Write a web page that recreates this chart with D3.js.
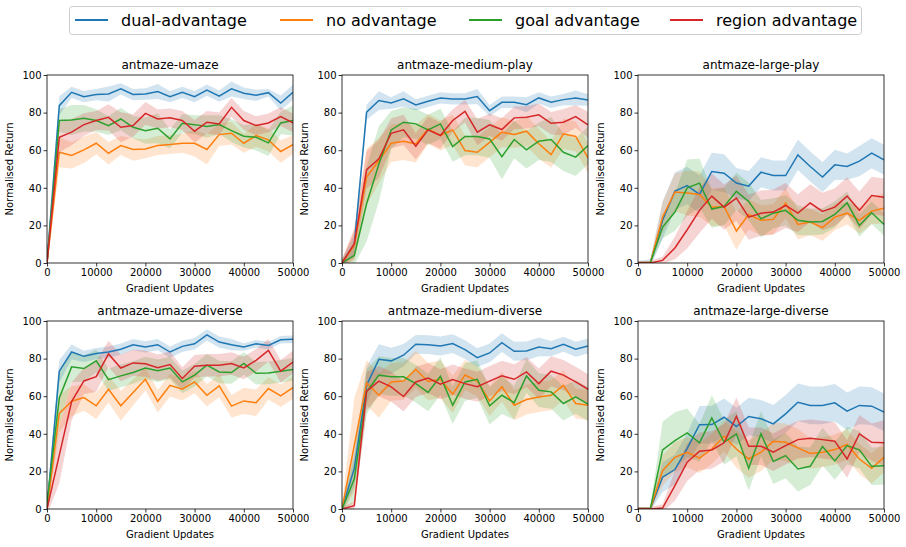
<!DOCTYPE html>
<html lang="en">
<head>
<meta charset="utf-8">
<title>antmaze returns</title>
<script src="https://cdn.jsdelivr.net/npm/d3@7/dist/d3.min.js"></script>
<style>
  body { margin: 0; background: #fff; }
  text { font-family: "DejaVu Sans", sans-serif; fill: #000; }
</style>
</head>
<body>
<div id="main"></div>
<script>
// x positions: every 2500 gradient updates
const steps = d3.range(21).map(i => i * 2500);
const seriesNames = ['dual-advantage', 'no advantage', 'goal advantage', 'region advantage'];
const colors = ['#1f77b4', '#ff7f0e', '#2ca02c', '#d62728'];
const titles = ['antmaze-umaze', 'antmaze-medium-play', 'antmaze-large-play',
                'antmaze-umaze-diverse', 'antmaze-medium-diverse', 'antmaze-large-diverse'];
const xTicks = [0, 10000, 20000, 30000, 40000, 50000];
const yTicks = [0, 20, 40, 60, 80, 100];

// means, series order = legend order
const umazeMean = [
  [0, 83.7, 90.8, 88.5, 89.6, 89.9, 92.6, 89.6, 89.9, 91.2, 88.5, 90.8, 88.5, 92, 88.8, 92.6, 90.3, 89.2, 90.6, 85.1, 90.8],
  [0, 58.9, 57.2, 60.2, 63.7, 58.4, 62.5, 60.4, 60.7, 62.5, 63, 63.7, 63.7, 60.4, 68.3, 69, 63.7, 67.8, 65.5, 59.3, 63],
  [0, 75.8, 76.1, 77, 75.8, 73.1, 76.6, 72.2, 70.4, 71.7, 66, 74.3, 73.6, 72.6, 73.6, 70.4, 67.4, 66.9, 63.9, 74.5, 75.8],
  [0, 66.9, 69.6, 73.6, 75.8, 77.5, 72.2, 73.1, 79.6, 76.6, 77.2, 75.8, 70.1, 74.9, 74, 82.8, 75.8, 73.1, 74.5, 77.9, 74.5]
];
const umazeSd = [
  [6, 5, 3, 3, 3, 4, 3, 3, 3, 4, 3, 3, 3, 3, 3, 4, 3, 3, 2, 4, 4],
  [3, 8, 7, 7, 6, 6, 5, 6, 5, 5, 5, 5, 7, 8, 6, 6, 5, 6, 6, 6, 5],
  [3, 6, 8, 7, 6, 5, 6, 6, 7, 8, 5, 5, 5, 6, 5, 6, 6, 7, 7, 6, 8],
  [3, 8, 7, 6, 5, 7, 8, 6, 6, 5, 5, 5, 6, 6, 6, 5, 5, 5, 5, 5, 5]
];

const mediumPlayMean = [
  [0, 10, 80.2, 86.4, 85.1, 87.3, 84.1, 86, 87.8, 87.3, 87.3, 88.5, 81, 85.5, 85.5, 84.2, 87.8, 85.5, 86.9, 87.8, 86.7],
  [0, 9.4, 45.7, 54.5, 63.7, 64.8, 63.4, 71.3, 67.8, 70.8, 59.8, 58.9, 64.2, 69.6, 68.3, 70.1, 63.4, 57.7, 68.7, 67.3, 55.9],
  [0, 4, 31.5, 52.7, 70.8, 74.9, 74, 70.8, 74, 61.9, 67.3, 67.3, 66, 56.6, 65.7, 60.2, 64.8, 65.7, 58.9, 56.3, 62.5],
  [0, 10.3, 49.6, 55.4, 69, 70.8, 62.1, 70.8, 67.8, 75.8, 80.7, 69.6, 73.5, 71, 77.2, 77.5, 78.8, 74.3, 74.9, 77.9, 73.5]
];
const mediumPlaySd = [
  [2, 5, 4, 5, 3, 4, 3, 3, 3, 3, 3, 4, 3, 3, 3, 4, 3, 3, 3, 4, 3],
  [2, 8, 15, 12, 10, 10, 10, 8, 8, 8, 8, 8, 8, 8, 7, 8, 8, 7, 8, 8, 8],
  [2, 5, 20, 20, 10, 8, 8, 8, 8, 8, 10, 10, 10, 12, 10, 10, 10, 12, 10, 10, 10],
  [2, 8, 10, 10, 8, 8, 7, 7, 7, 6, 6, 7, 6, 6, 6, 6, 6, 6, 7, 6, 7]
];

const largePlayMean = [
  [0, 0, 22.7, 38.2, 41.2, 36.5, 48.7, 47.8, 42.5, 40.9, 48.3, 46.5, 46.5, 57.5, 51.3, 45.7, 52.2, 51.3, 54.2, 58.4, 54.9],
  [0, 0, 24.4, 37.7, 37.2, 36.5, 29.7, 30.1, 17, 25.8, 22.7, 23.2, 31.9, 20.5, 21.8, 18.8, 24.4, 26.5, 22.7, 27.6, 29.2],
  [0, 0, 19.1, 27.1, 40, 42.5, 28.7, 30.1, 38.1, 32.7, 23.5, 26.5, 28, 22.7, 21.8, 22.1, 25.8, 32, 20, 26.7, 20.5],
  [0, 0, 1.4, 8, 17.7, 28, 35.6, 29.7, 34.5, 24.4, 26.5, 27.1, 30.6, 26.5, 31.9, 27.4, 29.7, 35.6, 28, 35.9, 35]
];
const largePlaySd = [
  [1, 2, 10, 10, 10, 10, 10, 10, 8, 8, 8, 8, 8, 8, 8, 8, 8, 7, 8, 8, 8],
  [1, 1, 8, 10, 12, 12, 10, 10, 10, 8, 8, 8, 8, 8, 7, 7, 7, 6, 7, 7, 8],
  [1, 1, 6, 10, 15, 13, 10, 10, 10, 10, 10, 8, 8, 8, 7, 7, 7, 6, 6, 6, 6],
  [1, 1, 2, 6, 10, 12, 12, 12, 12, 12, 12, 12, 12, 10, 10, 10, 10, 10, 10, 10, 10]
];

const umazeDiverseMean = [
  [0, 73.3, 83.5, 81.2, 82.7, 83.5, 85, 87.4, 86.2, 87.4, 83.5, 86.5, 87.9, 92.6, 88.8, 87.4, 86.2, 87.9, 87, 90, 90.3],
  [0, 50.8, 57.3, 59.3, 54.9, 63.7, 54.9, 62, 69, 57.3, 65.8, 63.7, 67.6, 60.5, 65.5, 54.7, 57.5, 56.5, 64.1, 60.2, 64.6],
  [3, 59.1, 75.6, 74.7, 78.8, 68.8, 70.8, 72.6, 75, 73.5, 75, 67.6, 71.2, 76.5, 72.9, 72.6, 77.4, 72.2, 72.4, 73.3, 74.2],
  [0, 28.7, 57.1, 68.1, 70.4, 82.5, 75, 77.7, 77.3, 75.2, 76.8, 69.4, 75.9, 76.5, 76.5, 77.4, 75, 79.1, 84.4, 73.3, 78.2]
];
const umazeDiverseSd = [
  [5, 6, 4, 3, 3, 3, 3, 3, 3, 3, 3, 3, 3, 3, 3, 3, 2, 2, 2, 2, 2],
  [3, 10, 8, 7, 7, 7, 8, 7, 6, 6, 6, 6, 6, 6, 6, 6, 7, 7, 6, 6, 6],
  [3, 15, 8, 7, 6, 6, 6, 6, 6, 6, 6, 6, 6, 6, 6, 6, 6, 6, 6, 6, 6],
  [3, 15, 10, 7, 8, 7, 7, 7, 7, 7, 7, 6, 6, 6, 6, 6, 6, 6, 6, 6, 6]
];

const mediumDiverseMean = [
  [0, 21.6, 65.8, 79.6, 78.8, 81.8, 87.6, 87.4, 86.7, 88, 84.8, 80.5, 83, 88.5, 83.9, 84.1, 86.2, 85.3, 87.6, 85, 86.7],
  [0, 34, 67.1, 60.5, 67.6, 68.1, 74.2, 67.8, 69, 61, 71.3, 68, 57.5, 65, 55.2, 58.2, 59.6, 60.5, 65.8, 56.1, 55.2],
  [0, 15.9, 62.3, 71.2, 70.3, 70.3, 66.7, 62, 70.6, 55.2, 67.6, 69, 54.9, 60.5, 56.6, 70.8, 63.2, 62.3, 56.1, 59.6, 55.8],
  [0, 1.8, 62.7, 68, 65, 59.8, 67.6, 69.7, 66.4, 68.8, 66.7, 65, 68, 70.8, 69, 72.9, 66.7, 73.3, 71.2, 67.6, 63.7]
];
const mediumDiverseSd = [
  [2, 10, 10, 8, 7, 6, 5, 5, 5, 5, 5, 5, 5, 5, 5, 5, 5, 4, 4, 4, 4],
  [2, 25, 12, 12, 10, 10, 10, 10, 10, 10, 8, 8, 8, 8, 8, 8, 8, 8, 8, 8, 8],
  [2, 12, 12, 10, 10, 10, 10, 10, 10, 10, 10, 10, 10, 10, 9, 9, 9, 9, 9, 9, 9],
  [1, 2, 10, 8, 8, 8, 8, 8, 8, 8, 8, 8, 8, 8, 8, 8, 8, 8, 8, 8, 8]
];

const largeDiverseMean = [
  [0, 0, 16.9, 21, 32.3, 44.8, 44.9, 48.8, 43.9, 49.2, 48, 45.3, 50.6, 56.8, 55.1, 55.1, 56.5, 52, 55.1, 54.7, 51.5],
  [0, 0, 20.4, 27.5, 30.2, 27.1, 31.9, 38.7, 31.9, 26.6, 30.2, 36, 35.5, 32.5, 29.5, 30.2, 31.6, 34.3, 26.6, 21.6, 27.5],
  [0, 0, 31.4, 36.4, 40.5, 35.2, 48.5, 35.5, 40, 21.7, 40, 25.3, 28.4, 21.3, 22.7, 33.2, 25.6, 33.7, 31.5, 22.7, 23],
  [0, 0, 0.5, 12.4, 24.9, 30.7, 31.4, 35.2, 49.3, 33.4, 33.4, 30.2, 33.7, 36.9, 37.6, 36.9, 36.1, 26.6, 40, 35.5, 35.2]
];
const largeDiverseSd = [
  [1, 1, 8, 8, 8, 10, 10, 10, 10, 10, 10, 10, 10, 10, 10, 10, 10, 10, 10, 10, 10],
  [1, 1, 8, 8, 8, 8, 8, 8, 10, 10, 10, 10, 10, 10, 8, 8, 8, 8, 8, 8, 8],
  [1, 1, 15, 15, 13, 10, 12, 12, 12, 12, 12, 12, 12, 12, 10, 10, 10, 10, 10, 10, 10],
  [1, 1, 2, 8, 10, 10, 10, 10, 10, 10, 10, 10, 10, 10, 10, 10, 10, 10, 10, 10, 12]
];

const panelMeans = [umazeMean, mediumPlayMean, largePlayMean, umazeDiverseMean, mediumDiverseMean, largeDiverseMean];
const panelSds = [umazeSd, mediumPlaySd, largePlaySd, umazeDiverseSd, mediumDiverseSd, largeDiverseSd];

const W = 906, H = 547;
const lefts = [47, 342, 638], tops = [75, 321];
const pw = 246, ph = 188;

const svg = d3.select('#main').append('svg')
  .attr('width', W).attr('height', H);

panelMeans.forEach((means, p) => {
  const col = p % 3, row = Math.floor(p / 3);
  const g = svg.append('g').attr('transform', `translate(${lefts[col]},${tops[row]})`);

  const x = d3.scaleLinear().domain([0, 50000]).range([0, pw]);
  const y = d3.scaleLinear().domain([0, 100]).range([ph, 0]);

  g.append('clipPath').attr('id', 'clip' + p)
    .append('rect').attr('width', pw).attr('height', ph);

  const plot = g.append('g').attr('clip-path', `url(#clip${p})`);

  const area = d3.area()
    .x((d, i) => x(steps[i]))
    .y0(d => y(d[0] - d[1]))
    .y1(d => y(d[0] + d[1]));
  const line = d3.line()
    .x((d, i) => x(steps[i]))
    .y(d => y(d));

  means.forEach((m, s) => {
    const pairs = m.map((v, i) => [v, panelSds[p][s][i]]);
    plot.append('path')
      .attr('d', area(pairs))
      .attr('fill', colors[s])
      .attr('fill-opacity', 0.2)
      .attr('stroke', 'none');
  });
  means.forEach((m, s) => {
    plot.append('path')
      .attr('d', line(m))
      .attr('fill', 'none')
      .attr('stroke', colors[s])
      .attr('stroke-width', 1.5);
  });

  const xAxis = g.append('g').attr('transform', `translate(0,${ph})`)
    .call(d3.axisBottom(x).tickValues(xTicks).tickFormat(d3.format('d')).tickSize(3.5).tickPadding(2));
  const yAxis = g.append('g')
    .call(d3.axisLeft(y).tickValues(yTicks).tickSize(3.5).tickPadding(2));
  [xAxis, yAxis].forEach(a => {
    a.select('.domain').remove();
    a.selectAll('line').attr('stroke', '#000').attr('stroke-width', 0.8);
    a.selectAll('text').attr('font-size', '10px').attr('font-family', 'DejaVu Sans').attr('fill', '#000');
  });

  g.append('rect').attr('width', pw).attr('height', ph)
    .attr('fill', 'none').attr('stroke', '#000').attr('stroke-width', 0.8);

  g.append('text')
    .attr('x', pw / 2).attr('y', -6)
    .attr('text-anchor', 'middle')
    .attr('font-size', '12px')
    .text(titles[p]);

  g.append('text')
    .attr('x', pw / 2).attr('y', ph + 29)
    .attr('text-anchor', 'middle')
    .attr('font-size', '10px')
    .text('Gradient Updates');

  g.append('text')
    .attr('transform', `translate(-34,${ph / 2}) rotate(-90)`)
    .attr('text-anchor', 'middle')
    .attr('font-size', '10px')
    .text('Normalised Return');
});

// legend
const legend = svg.append('g');
legend.append('rect')
  .attr('x', 69.5).attr('y', 6.5).attr('width', 792).attr('height', 28).attr('rx', 3)
  .attr('fill', '#fff').attr('stroke', '#ccc').attr('stroke-width', 1);
const legendX = [75, 280, 469, 670];
seriesNames.forEach((name, s) => {
  legend.append('line')
    .attr('x1', legendX[s]).attr('x2', legendX[s] + 33)
    .attr('y1', 20).attr('y2', 20)
    .attr('stroke', colors[s]).attr('stroke-width', 2);
  legend.append('text')
    .attr('x', legendX[s] + 46).attr('y', 26)
    .attr('font-size', '16px')
    .text(name);
});
</script>
</body>
</html>
